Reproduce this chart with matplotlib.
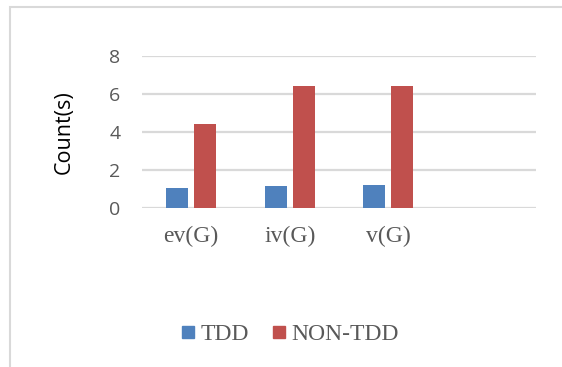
import numpy as np
import matplotlib.pyplot as plt
from matplotlib.lines import Line2D
from matplotlib.patches import Rectangle

# data
categories = ['ev(G)', 'iv(G)', 'v(G)', '']
tdd = [1.08, 1.17, 1.24, np.nan]
non_tdd = [4.43, 6.39, 6.39, np.nan]
series_names = ['TDD', 'NON-TDD']
yticks = [0, 2, 4, 6, 8]

blue = '#4F81BD'
red = '#C0504D'
grid_col = '#D9D9D9'
text_col = '#595959'

fig = plt.figure(figsize=(5.62, 3.67), dpi=100)
W, H = 562, 367

# chart border (light grey frame running off the right/bottom edge)
fig.add_artist(Rectangle((10 / W, -0.1), 1.2, 1 - 7 / H + 0.1,
                         transform=fig.transFigure, fill=False,
                         edgecolor=grid_col, linewidth=1.5))

ax = fig.add_axes([142 / W, (H - 208.3) / H, 394 / W, 152.6 / H])

x = np.arange(len(categories))
bw = 0.223
off = 0.142
ax.bar(x - off, tdd, bw, color=blue, zorder=3)
ax.bar(x + off, non_tdd, bw, color=red, zorder=3)

ax.set_xlim(-0.5, len(categories) - 0.5)
ax.set_ylim(0, 8)
ax.set_yticks(yticks)
ax.set_xticks(x)
ax.set_xticklabels(categories, family='Liberation Serif', fontsize=17,
                   color=text_col)
for lab in ax.get_yticklabels():
    lab.set_family('Open Sans')
    lab.set_fontsize(14)
    lab.set_color(text_col)
ax.tick_params(axis='y', length=0, pad=15.5)
ax.tick_params(axis='x', length=0, pad=13)
ax.grid(axis='y', color=grid_col, linewidth=1.6, zorder=0)
for s in ax.spines.values():
    s.set_visible(False)

fig.text(64.5 / W, 1 - 132.5 / H, 'Count(s)', rotation=90, ha='center',
         va='center', family='Open Sans', fontsize=15.5, color='black')

handles = [Line2D([], [], marker='s', linestyle='none', markersize=8.6,
                  color=c) for c in (blue, red)]
leg = fig.legend(handles, series_names, loc='center', ncol=2,
                 bbox_to_anchor=(290 / W, 1 - 334 / H), frameon=False,
                 handlelength=0.6, handletextpad=0.2, columnspacing=1.0,
                 prop={'family': 'Liberation Serif', 'size': 17})
for t in leg.get_texts():
    t.set_color(text_col)

fig.savefig('out.png', dpi=100)
